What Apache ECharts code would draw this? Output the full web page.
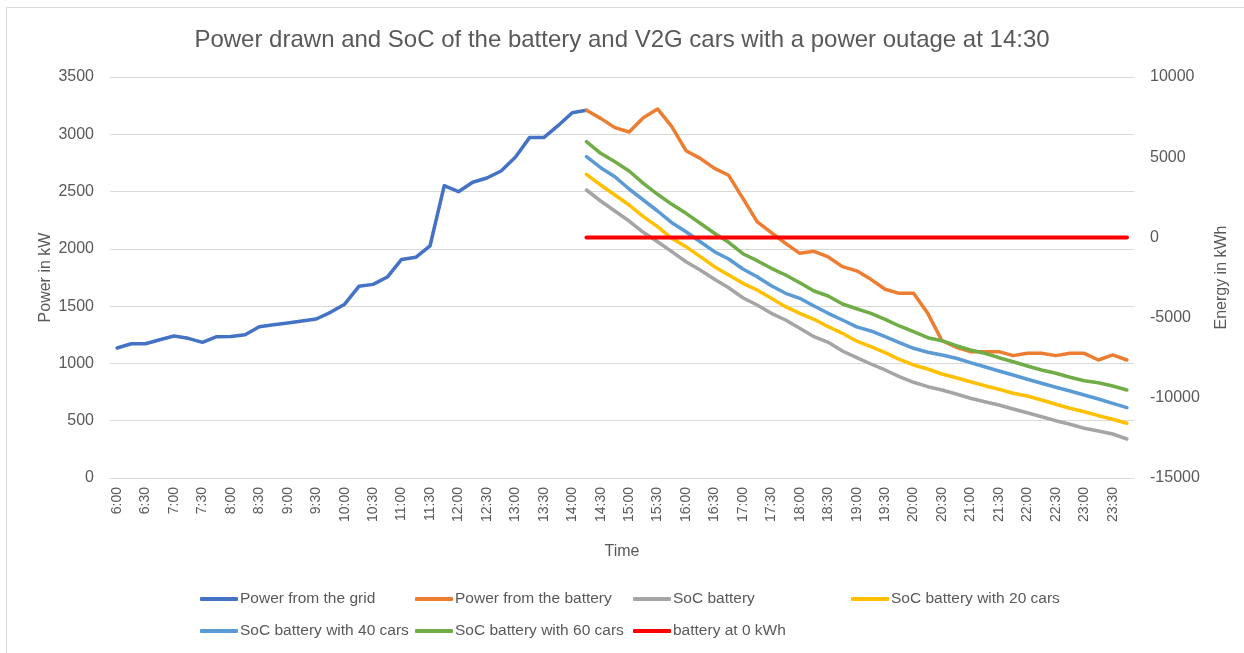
<!DOCTYPE html>
<html>
<head>
<meta charset="utf-8">
<script src="https://cdn.jsdelivr.net/npm/echarts@6/dist/echarts.min.js"></script>
<style>
  html, body { margin: 0; padding: 0; background: #fff; overflow: hidden; width: 1244px; height: 653px; }
  #frame { position: absolute; left: 6px; top: 7px; width: 1260px; height: 680px;
           border-left: 1px solid #d9d9d9; border-top: 1px solid #d9d9d9; }
  #main { position: absolute; left: 0; top: 0; width: 1244px; height: 653px; }
</style>
</head>
<body>
<div id="frame"></div>
<div id="main"></div>
<script>
// time slots, 15 min steps from 6:00 to 23:45
const times = [
  '6:00','6:15','6:30','6:45','7:00','7:15','7:30','7:45','8:00','8:15','8:30','8:45',
  '9:00','9:15','9:30','9:45','10:00','10:15','10:30','10:45','11:00','11:15','11:30','11:45',
  '12:00','12:15','12:30','12:45','13:00','13:15','13:30','13:45','14:00','14:15','14:30','14:45',
  '15:00','15:15','15:30','15:45','16:00','16:15','16:30','16:45','17:00','17:15','17:30','17:45',
  '18:00','18:15','18:30','18:45','19:00','19:15','19:30','19:45','20:00','20:15','20:30','20:45',
  '21:00','21:15','21:30','21:45','22:00','22:15','22:30','22:45','23:00','23:15','23:30','23:45'
];

// 6:00 .. 14:15 (kW)
const gridPower = [1135,1172,1172,1207,1239,1219,1184,1233,1236,1251,1321,1338,
  1353,1370,1388,1446,1517,1673,1690,1754,1908,1926,2025,2551,
  2499,2581,2618,2680,2799,2971,2971,3075,3188,3209];

// 14:15 .. 23:45 (kW)
const batteryPower = [3209,3139,3058,3020,3145,3221,3067,2857,2790,2703,2642,2441,
  2237,2141,2048,1961,1979,1929,1845,1808,1734,1647,1612,1612,1437,1198,1141,1103,
  1103,1103,1068,1088,1088,1068,1088,1088,1030,1074,1030];

// 14:15 .. 23:45 (kWh)
const socBattery = [2955,2269,1646,1022,318,-268,-891,-1515,-2032,-2612,
  -3136,-3759,-4214,-4732,-5149,-5667,-6190,-6540,-7082,-7490,
  -7892,-8266,-8684,-9033,-9308,-9513,-9763,-10031,-10243,-10449,
  -10698,-10928,-11178,-11427,-11652,-11901,-12069,-12256,-12568];
const soc20 = [3932,3267,2643,2020,1293,668,-58,-578,-1201,-1825,
  -2344,-2862,-3279,-3797,-4318,-4732,-5106,-5567,-5979,-6470,
  -6814,-7188,-7599,-7955,-8204,-8516,-8746,-8996,-9245,-9469,
  -9719,-9887,-10137,-10405,-10654,-10866,-11115,-11340,-11589];
const soc40 = [5031,4345,3784,3017,2332,1646,916,355,-268,-891,
  -1347,-1970,-2450,-3011,-3485,-3797,-4277,-4732,-5149,-5580,
  -5835,-6190,-6564,-6914,-7163,-7331,-7537,-7811,-8061,-8329,
  -8578,-8846,-9095,-9345,-9575,-9825,-10074,-10343,-10617];
const soc60 = [5966,5243,4719,4139,3372,2687,2063,1502,879,256,
  -305,-1016,-1452,-1926,-2344,-2824,-3341,-3653,-4152,-4450,
  -4732,-5106,-5523,-5879,-6253,-6440,-6752,-7020,-7225,-7500,
  -7749,-8017,-8266,-8472,-8721,-8933,-9058,-9264,-9513];
const zeroLine = new Array(39).fill(0);

const outageStart = 33; // index of 14:15
const font = 'Liberation Sans';
const grey = '#595959';

const pad = (arr) => new Array(outageStart).fill(null).concat(arr);

const chart = echarts.init(document.getElementById('main'));

const seriesDefs = [
  { name: 'Power from the grid', data: gridPower, color: '#4472C4', axis: 0, width: 3.5 },
  { name: 'Power from the battery', data: pad(batteryPower), color: '#ED7D31', axis: 0, width: 3.5 },
  { name: 'SoC battery', data: pad(socBattery), color: '#A5A5A5', axis: 1, width: 3.5 },
  { name: 'SoC battery with 20 cars', data: pad(soc20), color: '#FFC000', axis: 1, width: 3.5 },
  { name: 'SoC battery with 40 cars', data: pad(soc40), color: '#5B9BD5', axis: 1, width: 3.5 },
  { name: 'SoC battery with 60 cars', data: pad(soc60), color: '#70AD47', axis: 1, width: 3.5 },
  { name: 'battery at 0 kWh', data: pad(zeroLine), color: '#FF0000', axis: 1, width: 4 }
];

// legend spots (Excel lays them out in a grid)
const legendPos = [
  [200, 591], [415, 591], [633, 591], [851, 591],
  [200, 623], [415, 623], [633, 623]
];

const plain = v => String(v);

const option = {
  animation: false,
  title: {
    text: 'Power drawn and SoC of the battery and V2G cars with a power outage at 14:30',
    left: 'center',
    top: 23,
    textStyle: { fontFamily: font, fontSize: 24, fontWeight: 'normal', color: grey }
  },
  legend: seriesDefs.map((s, i) => ({
    data: [s.name],
    left: legendPos[i][0],
    top: legendPos[i][1],
    icon: 'roundRect',
    itemWidth: 38,
    itemHeight: 4,
    itemGap: 0,
    padding: 0,
    textStyle: { fontFamily: font, fontSize: 15.5, color: grey, padding: [0, 0, 0, -3] }
  })),
  grid: { left: 110, right: 110, top: 77, bottom: 175 },
  xAxis: {
    type: 'category',
    data: times,
    boundaryGap: true,
    name: 'Time',
    nameLocation: 'middle',
    nameGap: 66,
    nameTextStyle: { fontFamily: font, fontSize: 16, color: grey },
    axisLine: { lineStyle: { color: '#d9d9d9' } },
    axisTick: { show: false },
    axisLabel: {
      interval: 1,
      rotate: 90,
      margin: 9,
      fontFamily: font,
      fontSize: 14,
      color: grey
    }
  },
  yAxis: [
    {
      type: 'value',
      min: 0,
      max: 3500,
      interval: 500,
      name: 'Power in kW',
      nameLocation: 'middle',
      nameGap: 56,
      nameMoveOverlap: false,
      nameTextStyle: { fontFamily: font, fontSize: 16, color: grey },
      axisLine: { show: false },
      axisTick: { show: false },
      axisLabel: { margin: 16, fontFamily: font, fontSize: 16, color: grey, formatter: plain },
      splitLine: { lineStyle: { color: '#d9d9d9', width: 1 } }
    },
    {
      type: 'value',
      min: -15000,
      max: 10000,
      interval: 5000,
      name: 'Energy in kWh',
      nameLocation: 'middle',
      nameGap: 80,
      nameMoveOverlap: false,
      nameTextStyle: { fontFamily: font, fontSize: 16, color: grey },
      axisLine: { show: false },
      axisTick: { show: false },
      axisLabel: { margin: 16, fontFamily: font, fontSize: 16, color: grey, formatter: plain },
      splitLine: { show: false }
    }
  ],
  series: seriesDefs.map(s => ({
    name: s.name,
    type: 'line',
    yAxisIndex: s.axis,
    data: s.data,
    showSymbol: false,
    symbol: 'none',
    connectNulls: false,
    color: s.color,
    lineStyle: { color: s.color, width: s.width, cap: 'round', join: 'round' }
  }))
};

chart.setOption(option);
</script>
</body>
</html>
